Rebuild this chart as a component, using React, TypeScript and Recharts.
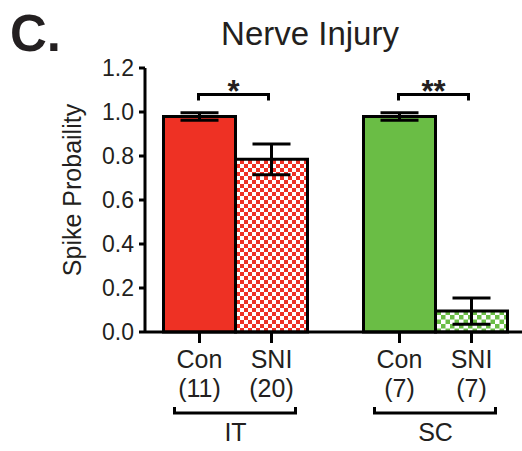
import React from "react";
import { BarChart, Bar, XAxis, YAxis, Cell, ErrorBar } from "recharts";

const groups = ["IT", "SC"];
const conMeans = [0.98, 0.98];
const conSem = [0.017, 0.017];
const sniMeans = [0.785, 0.095];
const sniSem = [0.07, 0.06];
const conN = ["(11)", "(7)"];
const sniN = ["(20)", "(7)"];
const subLabels = ["Con", "SNI"];
const sigStars = ["*", "**"];
const sigLevel = 1.08;
const yTicks = [0, 0.2, 0.4, 0.6, 0.8, 1.0, 1.2];

const RED = "#EE3124";
const GREEN = "#6ABD45";
const INK = "#231F20";
const FONT = "'Liberation Sans', Arial, sans-serif";

const data = groups.map((g, i) => ({
  group: g,
  con: conMeans[i],
  conErr: conSem[i],
  sni: sniMeans[i],
  sniErr: sniSem[i],
}));

const BAR = 72;

function GroupTick(props: any) {
  const { x, y, index } = props;
  const i = index ?? groups.indexOf(props.payload?.value);
  const left = x - BAR / 2;
  const right = x + BAR / 2;
  return (
    <g fontFamily={FONT} fill={INK} fontSize={25}>
      <line x1={left} x2={left} y1={y} y2={y + 11} stroke="#000" strokeWidth={3} />
      <line x1={right} x2={right} y1={y} y2={y + 11} stroke="#000" strokeWidth={3} />
      <text x={left} y={y + 36} textAnchor="middle">{subLabels[0]}</text>
      <text x={right} y={y + 36} textAnchor="middle">{subLabels[1]}</text>
      <text x={left} y={y + 65} textAnchor="middle">{conN[i]}</text>
      <text x={right} y={y + 65} textAnchor="middle">{sniN[i]}</text>
      <path
        d={`M${x - 61},${y + 75} V${y + 81} H${x + 60} V${y + 75}`}
        stroke="#000"
        strokeWidth={3}
        fill="none"
      />
      <text x={x} y={y + 109} textAnchor="middle">{groups[i]}</text>
    </g>
  );
}

// bracket + stars above each pair, scaled from the SNI bar's own geometry
function SigBracket(props: any) {
  const vb = props.viewBox || {};
  const x = props.x ?? vb.x;
  const y = props.y ?? vb.y;
  const height = props.height ?? vb.height;
  const index = props.index ?? 0;
  const v = sniMeans[index];
  const base = y + height;
  const yy = base - (sigLevel * height) / v;
  const x1 = x - 37;
  const x2 = x + 33;
  return (
    <g>
      <path
        d={`M${x1},${yy + 6} V${yy} H${x2} V${yy + 6}`}
        stroke="#000"
        strokeWidth={3}
        fill="none"
      />
      <text
        x={(x1 + x2) / 2}
        y={yy + 8}
        textAnchor="middle"
        fontFamily={FONT}
        fontWeight="bold"
        fontSize={31}
        fill={INK}
      >
        {sigStars[index]}
      </text>
    </g>
  );
}

function YLabel() {
  return (
    <text
      x={72}
      y={190}
      transform="rotate(-90, 72, 190)"
      textAnchor="middle"
      dominantBaseline="central"
      fontFamily={FONT}
      fontSize={25}
      fill={INK}
    >
      Spike Probaility
    </text>
  );
}

export default function App() {
  return (
    <div style={{ position: "absolute", left: 0, top: 0, width: 522, height: 451, background: "#fff" }}>
      <BarChart
        width={522}
        height={451}
        data={data}
        margin={{ top: 68, right: 0, bottom: 0, left: 0 }}
        barGap={0}
        barSize={BAR}
      >
        <defs>
          <pattern id="checkRed" width="8" height="8" patternUnits="userSpaceOnUse">
            <rect width="8" height="8" fill="#fff" />
            <rect width="4" height="4" fill={RED} />
            <rect x="4" y="4" width="4" height="4" fill={RED} />
          </pattern>
          <pattern id="checkGreen" width="9" height="9" patternUnits="userSpaceOnUse">
            <rect width="9" height="9" fill="#fff" />
            <rect width="4.5" height="4.5" fill={GREEN} />
            <rect x="4.5" y="4.5" width="4.5" height="4.5" fill={GREEN} />
          </pattern>
        </defs>
        <XAxis
          dataKey="group"
          height={119}
          padding={{ left: -9.5, right: -13.5 }}
          axisLine={{ stroke: "#000", strokeWidth: 3 }}
          tickLine={false}
          tickSize={0}
          tickMargin={0}
          tick={<GroupTick />}
          interval={0}
        />
        <YAxis
          width={145}
          domain={[0, 1.2]}
          ticks={yTicks}
          interval={0}
          tickFormatter={(v: number) => v.toFixed(1)}
          axisLine={{ stroke: "#000", strokeWidth: 3 }}
          tickLine={{ stroke: "#000", strokeWidth: 3 }}
          tickSize={6}
          tickMargin={5}
          tick={{ fill: INK, fontSize: 23, fontFamily: FONT }}
          label={<YLabel />}
        />
        <Bar dataKey="con" stroke="#000" strokeWidth={3} isAnimationActive={false}>
          {data.map((_, i) => (
            <Cell key={i} fill={i === 0 ? RED : GREEN} />
          ))}
          <ErrorBar dataKey="conErr" width={19} stroke="#000" strokeWidth={3} direction="y" />
        </Bar>
        <Bar
          dataKey="sni"
          stroke="#000"
          strokeWidth={3}
          isAnimationActive={false}
          label={<SigBracket />}
        >
          {data.map((_, i) => (
            <Cell key={i} fill={i === 0 ? "url(#checkRed)" : "url(#checkGreen)"} />
          ))}
          <ErrorBar dataKey="sniErr" width={19} stroke="#000" strokeWidth={3} direction="y" />
        </Bar>
      </BarChart>
      <svg
        width={522}
        height={451}
        style={{ position: "absolute", left: 0, top: 0, pointerEvents: "none" }}
      >
        <text x={10} y={51} fontFamily={FONT} fontWeight="bold" fontSize={51} fill={INK}>
          C.
        </text>
        <text x={310} y={45} textAnchor="middle" fontFamily={FONT} fontSize={33} fill={INK}>
          Nerve Injury
        </text>
      </svg>
    </div>
  );
}
